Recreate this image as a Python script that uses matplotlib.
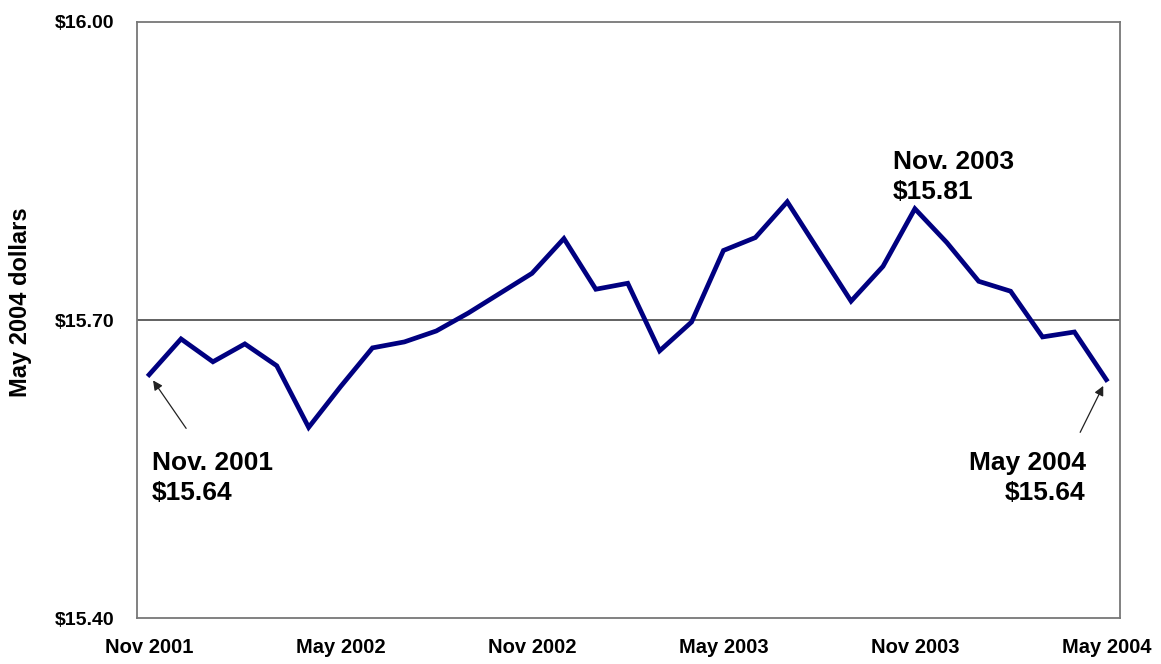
import matplotlib.pyplot as plt
import numpy as np

plt.rcParams['font.family'] = ['Liberation Sans', 'DejaVu Sans']

# monthly values, Nov 2001 .. May 2004
months = ['Nov 2001', 'Dec 2001', 'Jan 2002', 'Feb 2002', 'Mar 2002', 'Apr 2002',
          'May 2002', 'Jun 2002', 'Jul 2002', 'Aug 2002', 'Sep 2002', 'Oct 2002',
          'Nov 2002', 'Dec 2002', 'Jan 2003', 'Feb 2003', 'Mar 2003', 'Apr 2003',
          'May 2003', 'Jun 2003', 'Jul 2003', 'Aug 2003', 'Sep 2003', 'Oct 2003',
          'Nov 2003', 'Dec 2003', 'Jan 2004', 'Feb 2004', 'Mar 2004', 'Apr 2004',
          'May 2004']
earnings = [15.645, 15.681, 15.658, 15.676, 15.654, 15.592,
            15.633, 15.672, 15.678, 15.689, 15.707, 15.727,
            15.747, 15.782, 15.731, 15.737, 15.669, 15.698,
            15.770, 15.783, 15.819, 15.769, 15.719, 15.754,
            15.812, 15.778, 15.739, 15.729, 15.683, 15.688,
            15.640]
tick_months = ['Nov 2001', 'May 2002', 'Nov 2002', 'May 2003', 'Nov 2003', 'May 2004']
y_ticks = [15.40, 15.70, 16.00]

x = np.arange(len(months))

fig = plt.figure(figsize=(11.61, 6.64), dpi=100)
ax = fig.add_axes([0.118, 0.069, 0.847, 0.898])

ax.axhline(15.70, color='#555555', lw=1.3, zorder=1)
ax.plot(x, earnings, color='#000080', lw=3.4, solid_joinstyle='miter', zorder=3)

ax.set_xlim(-0.38, 30.44)
ax.set_ylim(15.40, 16.00)
ax.set_yticks(y_ticks)
ax.set_yticklabels(['$%.2f' % v for v in y_ticks], fontsize=14, fontweight='bold')
ax.set_xticks([months.index(m) for m in tick_months])
ax.set_xticklabels(tick_months, fontsize=14.5, fontweight='bold')
ax.tick_params(length=0)
ax.tick_params(axis='y', pad=16)
ax.tick_params(axis='x', pad=14)
for s in ax.spines.values():
    s.set_color('#777777')
    s.set_linewidth(1.3)

ax.set_ylabel('May 2004 dollars', fontsize=17, fontweight='bold')
ax.yaxis.set_label_coords(-0.107, 0.53)

label_kw = dict(fontsize=19, fontweight='bold', linespacing=1.35)
ax.text(x[0] + 0.08, 15.541, 'Nov. 2001\n$15.64', ha='left', va='center', **label_kw)
ax.text(x[-1] - 0.65, 15.541, 'May 2004\n$15.64', ha='right', va='center', **label_kw)
ax.text(x[24] - 0.68, 15.844, 'Nov. 2003\n$15.81', ha='left', va='center', **label_kw)

arrow = dict(arrowstyle='-|>', color='#222222', lw=0.9, mutation_scale=14,
             shrinkA=0, shrinkB=5)
ax.annotate('', xy=(x[0], earnings[0]), xytext=(1.16, 15.591), arrowprops=arrow)
ax.annotate('', xy=(x[-1], earnings[-1]), xytext=(29.18, 15.587), arrowprops=arrow)

fig.savefig('out.png', dpi=100)
